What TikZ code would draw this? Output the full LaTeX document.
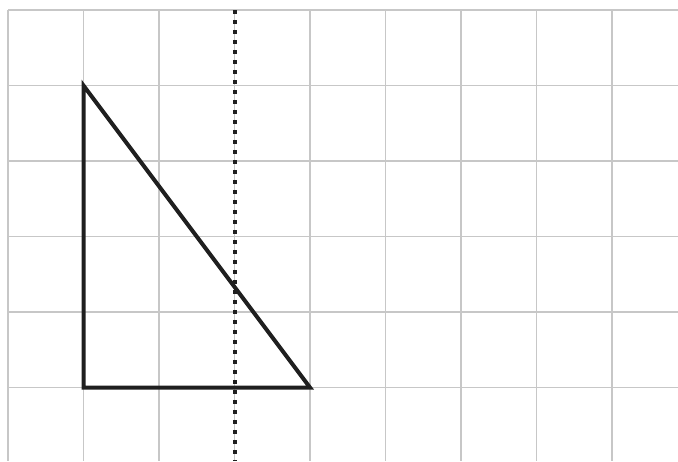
\documentclass[tikz,border=0pt]{standalone}
\begin{document}
\begin{tikzpicture}[x=1pt,y=-1pt,
  gridline/.style={draw=black!22, line width=1.3pt},
  triline/.style={draw=black!88, line width=4pt, line join=miter},
  axisline/.style={draw=black!88, line width=4pt, dash pattern=on 4pt off 6pt}]
\useasboundingbox (0,0) rectangle (678,461);
\foreach \x in {8,83.5,159,234.5,310,385.5,461,536.5,612}
  \draw[gridline] (\x,10) -- (\x,461);
\foreach \y in {10,85.5,161,236.5,312,387.5}
  \draw[gridline] (8,\y) -- (678,\y);
\coordinate (A) at (83.5,85.5);
\coordinate (B) at (83.5,387.5);
\coordinate (C) at (310,387.5);
\coordinate (T) at (234.5,10);
\coordinate (U) at (234.5,461);
\draw[triline] (A) -- (B) -- (C) -- cycle;
\draw[axisline] (T) -- (U);
\end{tikzpicture}
\end{document}
